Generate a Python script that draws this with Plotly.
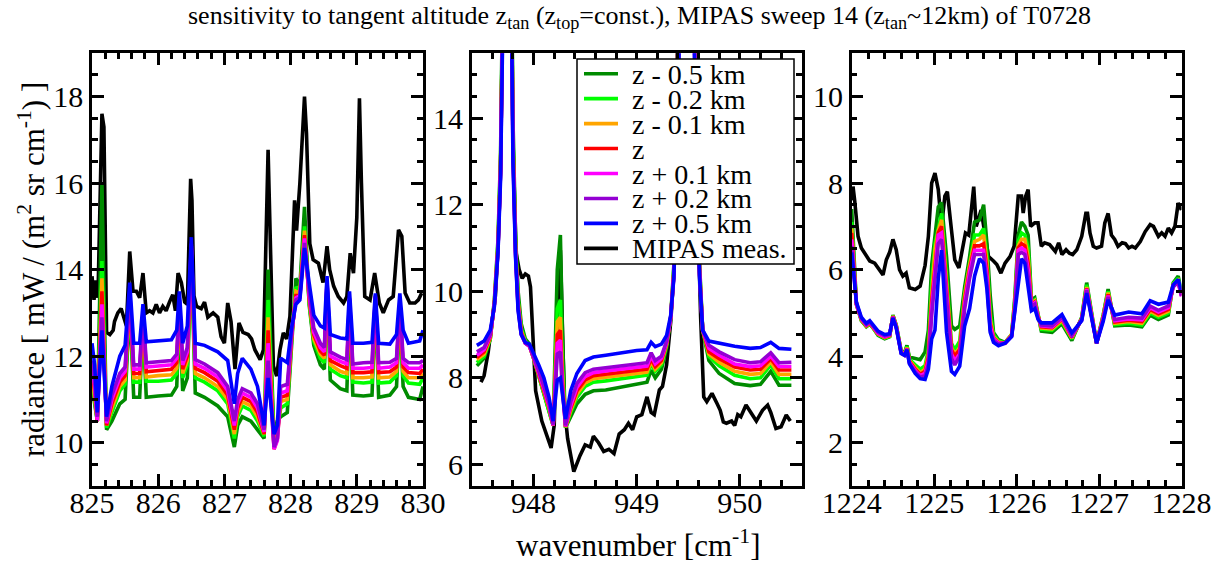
import plotly.graph_objects as go

# ---------------- data: left panel (825-830 cm-1) ----------------
L_x = [825.00, 825.04, 825.08, 825.15, 825.22, 825.30, 825.42, 825.50, 825.57, 825.63,
       825.72, 825.77, 825.82, 826.00, 826.20, 826.28, 826.32, 826.37, 826.44, 826.50,
       826.56, 826.70, 826.90, 827.05, 827.15, 827.20, 827.27, 827.40, 827.50, 827.60,
       827.66, 827.75, 827.80, 827.85, 827.95, 828.02, 828.08, 828.14, 828.21, 828.28,
       828.35, 828.45, 828.51, 828.55, 828.60, 828.75, 828.85, 828.89, 828.94, 829.10,
       829.23, 829.28, 829.33, 829.50, 829.60, 829.65, 829.70, 829.78, 829.95, 830.00]
L_dg = [11.3, 10.9, 10.5, 16.0, 10.3, 10.5, 10.9, 11.0, 13.2, 11.05,
        11.05, 12.8, 11.05, 11.08, 11.1, 11.3, 13.0, 11.2, 11.5, 14.3,
        11.15, 11.05, 10.85, 10.6, 9.9, 10.4, 10.6, 10.5, 10.3, 10.1,
        14.0, 10.1, 10.5, 10.6, 10.7, 12.5, 13.8, 13.6, 15.45, 13.2,
        12.25, 11.8, 11.7, 13.6, 11.45, 11.25, 11.2, 13.2, 11.1, 11.08,
        11.1, 13.3, 11.05, 11.1, 11.3, 13.0, 11.3, 11.05, 11.0, 11.3]
L_lime = [11.5, 11.0, 10.5, 14.2, 10.35, 10.7, 11.2, 11.35, 13.3, 11.4,
          11.4, 12.85, 11.42, 11.42, 11.45, 11.6, 13.1, 11.5, 11.8, 14.4,
          11.5, 11.4, 11.2, 10.9, 10.1, 10.6, 10.85, 10.75, 10.5, 10.15,
          13.3, 10.0, 10.3, 10.8, 10.9, 12.5, 13.6, 13.5, 15.0, 13.25,
          12.35, 11.95, 11.85, 13.65, 11.7, 11.55, 11.5, 13.25, 11.4, 11.38,
          11.4, 13.32, 11.38, 11.4, 11.55, 13.05, 11.55, 11.38, 11.35, 11.5]
L_orange = [11.6, 11.1, 10.5, 13.8, 10.4, 10.8, 11.3, 11.45, 13.35, 11.5,
            11.5, 12.9, 11.52, 11.55, 11.57, 11.72, 13.15, 11.6, 11.9, 14.45,
            11.6, 11.5, 11.3, 11.0, 10.2, 10.7, 10.95, 10.85, 10.6, 10.2,
            12.9, 9.9, 10.2, 10.95, 11.0, 12.5, 13.5, 13.45, 14.9, 13.3,
            12.4, 12.05, 11.95, 13.68, 11.8, 11.65, 11.6, 13.28, 11.5, 11.5,
            11.52, 13.34, 11.5, 11.52, 11.65, 13.1, 11.65, 11.5, 11.5, 11.6]
L_red = [11.7, 11.2, 10.5, 13.5, 10.4, 10.9, 11.4, 11.55, 13.4, 11.6,
         11.6, 12.95, 11.64, 11.67, 11.7, 11.85, 13.2, 11.7, 12.0, 14.5,
         11.72, 11.62, 11.42, 11.1, 10.3, 10.8, 11.05, 10.95, 10.7, 10.2,
         12.6, 9.85, 10.1, 11.05, 11.1, 12.55, 13.4, 13.4, 14.8, 13.35,
         12.5, 12.12, 12.02, 13.7, 11.9, 11.78, 11.72, 13.3, 11.62, 11.62,
         11.64, 13.36, 11.62, 11.64, 11.75, 13.15, 11.75, 11.62, 11.6, 11.7]
L_magenta = [11.8, 11.3, 10.5, 13.2, 10.45, 11.0, 11.5, 11.65, 13.45, 11.7,
             11.7, 13.0, 11.75, 11.77, 11.8, 11.95, 13.25, 11.8, 12.1, 14.55,
             11.82, 11.72, 11.52, 11.2, 10.4, 10.9, 11.15, 11.05, 10.8, 10.25,
             12.3, 9.85, 10.05, 11.15, 11.2, 12.6, 13.35, 13.4, 14.72, 13.4,
             12.55, 12.2, 12.1, 13.72, 12.0, 11.88, 11.82, 13.32, 11.72, 11.72,
             11.74, 13.38, 11.72, 11.75, 11.85, 13.2, 11.85, 11.72, 11.72, 11.8]
L_purple = [11.9, 11.4, 10.6, 12.9, 10.5, 11.1, 11.6, 11.75, 13.5, 11.8,
            11.8, 13.05, 11.85, 11.88, 11.9, 12.05, 13.3, 11.9, 12.2, 14.6,
            11.92, 11.82, 11.62, 11.3, 10.5, 11.0, 11.25, 11.15, 10.9, 10.3,
            11.9, 9.9, 10.1, 11.3, 11.35, 12.6, 13.3, 13.35, 14.62, 13.5,
            12.65, 12.3, 12.2, 13.75, 12.1, 11.98, 11.92, 13.35, 11.82, 11.85,
            11.86, 13.4, 11.85, 11.86, 11.95, 13.25, 11.95, 11.85, 11.85, 11.9]
L_blue = [12.3, 11.8, 10.7, 12.6, 10.6, 11.3, 12.0, 12.25, 13.7, 12.3,
          12.3, 13.2, 12.33, 12.35, 12.38, 12.6, 13.5, 12.3, 12.7, 14.75,
          12.3, 12.25, 12.1, 11.9, 10.9, 11.6, 11.95, 11.7, 11.3, 10.4,
          11.5, 10.2, 10.4, 11.95, 11.85, 12.7, 13.2, 13.3, 14.5, 13.7,
          12.95, 12.7, 12.65, 13.85, 12.5, 12.42, 12.4, 13.5, 12.3, 12.3,
          12.32, 13.45, 12.3, 12.28, 12.5, 13.45, 12.6, 12.3, 12.35, 12.6]
L_meas_x = [825.00, 825.03, 825.06, 825.09, 825.15, 825.18, 825.22, 825.27, 825.32, 825.34,
            825.39, 825.44, 825.48, 825.52, 825.57, 825.62, 825.67, 825.72, 825.77, 825.82,
            825.87, 825.92, 825.97, 826.02, 826.07, 826.12, 826.17, 826.22, 826.26, 826.30,
            826.35, 826.40, 826.44, 826.47, 826.49, 826.51, 826.54, 826.58, 826.65, 826.70,
            826.75, 826.83, 826.90, 826.95, 827.00, 827.05, 827.10, 827.16, 827.22, 827.28,
            827.36, 827.41, 827.46, 827.54, 827.59, 827.66, 827.74, 827.79, 827.84, 827.89,
            827.94, 827.99, 828.06, 828.09, 828.14, 828.21, 828.24, 828.29, 828.34, 828.42,
            828.49, 828.55, 828.59, 828.65, 828.72, 828.80, 828.85, 828.90, 828.95, 829.00,
            829.04, 829.07, 829.12, 829.20, 829.27, 829.34, 829.40, 829.48, 829.55, 829.63,
            829.68, 829.73, 829.80, 829.88, 829.93, 829.98]
L_meas = [13.85, 13.3, 13.75, 13.35, 17.6, 17.3, 12.55, 12.5, 12.6, 12.8,
          13.0, 13.1, 12.9, 12.7, 14.42, 13.5, 13.5, 13.35, 13.92, 13.0,
          13.05, 13.0, 13.2, 13.0, 13.15, 13.05, 13.25, 13.42, 13.05, 13.92,
          13.7, 13.25, 13.2, 15.0, 16.1, 15.6, 13.4, 13.15, 13.1, 13.25,
          12.9, 13.0, 12.9, 12.45, 12.3, 13.23, 12.8, 11.7, 12.77, 12.55,
          12.5, 12.4, 12.15, 11.92, 12.15, 16.77, 11.77, 11.54, 12.15, 12.54,
          12.4, 12.92, 15.6, 14.9, 16.0, 18.0, 17.15, 14.6, 14.23, 14.15,
          13.7, 14.54, 14.0, 13.62, 13.38, 13.23, 13.38, 14.38, 13.92, 15.2,
          17.96, 16.0, 13.38, 13.3, 13.92, 13.23, 13.0, 13.3, 13.38, 14.92,
          14.77, 13.46, 13.23, 13.23, 13.3, 13.46]

# ---------------- data: middle panel (947.4-950.6 cm-1) ----------------
M_x = [947.45, 947.52, 947.58, 947.62, 947.655, 947.68, 947.71, 947.74, 947.77, 947.80,
       947.825, 947.85, 947.88, 947.92, 947.96, 948.00, 948.05, 948.10, 948.15, 948.19,
       948.23, 948.26, 948.28, 948.31, 948.36, 948.42, 948.50, 948.58, 948.70, 948.85,
       949.00, 949.10, 949.14, 949.18, 949.24, 949.29, 949.33, 949.36, 949.385, 949.43,
       949.485, 949.54, 949.585, 949.61, 949.64, 949.70, 949.80, 949.95, 950.10, 950.20,
       950.30, 950.38, 950.50]
M_dg = [8.28, 8.45, 8.9, 9.8, 11.2, 13.2, 19.0, 40, 22.0, 14.0,
        11.3, 10.0, 9.25, 8.9, 8.78, 8.45, 8.05, 7.65, 7.25, 6.9,
        10.5, 11.3, 9.0, 6.85, 7.1, 7.4, 7.62, 7.7, 7.72, 7.78,
        7.84, 7.9, 8.18, 8.0, 8.2, 8.7, 9.4, 10.6, 12.8, 19.5,
        40, 19.5, 12.8, 10.6, 9.1, 8.4, 8.1, 7.87, 7.82, 7.85,
        8.15, 7.83, 7.83]
M_lime = [8.35, 8.5, 8.9, 9.75, 11.1, 13.0, 18.5, 40, 21.5, 13.6,
          11.1, 9.8, 9.15, 8.85, 8.75, 8.45, 8.06, 7.67, 7.27, 6.9,
          9.6, 9.8, 8.3, 6.85, 7.2, 7.55, 7.8, 7.9, 7.93, 7.98,
          8.03, 8.06, 8.32, 8.15, 8.3, 8.75, 9.4, 10.5, 12.6, 19.0,
          40, 19.0, 12.6, 10.5, 9.1, 8.5, 8.28, 8.06, 7.98, 8.0,
          8.3, 7.98, 7.98]
M_orange = [8.42, 8.55, 8.92, 9.75, 11.05, 12.9, 18.3, 40, 21.3, 13.5,
            11.0, 9.75, 9.1, 8.82, 8.74, 8.45, 8.08, 7.7, 7.3, 6.9,
            9.3, 9.4, 8.1, 6.86, 7.25, 7.62, 7.88, 7.98, 8.02, 8.06,
            8.1, 8.13, 8.38, 8.2, 8.35, 8.78, 9.4, 10.45, 12.5, 18.8,
            40, 18.8, 12.5, 10.45, 9.1, 8.55, 8.36, 8.15, 8.08, 8.1,
            8.37, 8.08, 8.08]
M_red = [8.47, 8.6, 8.95, 9.7, 11.0, 12.85, 18.2, 40, 21.2, 13.4,
         10.95, 9.7, 9.05, 8.8, 8.73, 8.46, 8.1, 7.72, 7.32, 6.9,
         9.0, 9.1, 7.9, 6.87, 7.3, 7.7, 7.95, 8.05, 8.08, 8.12,
         8.17, 8.2, 8.44, 8.26, 8.4, 8.8, 9.4, 10.4, 12.45, 18.6,
         40, 18.6, 12.45, 10.4, 9.1, 8.6, 8.44, 8.25, 8.18, 8.2,
         8.44, 8.18, 8.18]
M_magenta = [8.52, 8.65, 8.97, 9.7, 11.0, 12.8, 18.0, 40, 21.0, 13.3,
             10.9, 9.65, 9.02, 8.8, 8.73, 8.47, 8.12, 7.75, 7.35, 6.9,
             8.8, 8.87, 7.8, 6.88, 7.35, 7.78, 8.03, 8.12, 8.16, 8.2,
             8.24, 8.27, 8.5, 8.32, 8.45, 8.82, 9.4, 10.4, 12.4, 18.5,
             40, 18.5, 12.4, 10.4, 9.1, 8.68, 8.52, 8.32, 8.26, 8.28,
             8.5, 8.26, 8.26]
M_purple = [8.6, 8.7, 9.0, 9.7, 10.95, 12.75, 17.8, 40, 20.8, 13.2,
            10.85, 9.6, 9.0, 8.8, 8.74, 8.5, 8.16, 7.8, 7.4, 6.92,
            8.55, 8.6, 7.7, 6.9, 7.45, 7.87, 8.12, 8.2, 8.24, 8.28,
            8.32, 8.35, 8.58, 8.4, 8.5, 8.85, 9.4, 10.35, 12.35, 18.3,
            40, 18.3, 12.35, 10.35, 9.1, 8.75, 8.6, 8.42, 8.35, 8.37,
            8.58, 8.35, 8.36]
M_blue = [8.75, 8.85, 9.1, 9.65, 10.9, 12.6, 17.5, 40, 20.5, 13.0,
          10.8, 9.55, 9.0, 8.82, 8.78, 8.58, 8.3, 8.0, 7.55, 7.0,
          7.95, 8.0, 7.6, 7.05, 7.7, 8.1, 8.4, 8.48, 8.52, 8.58,
          8.63, 8.65, 8.82, 8.72, 8.78, 8.98, 9.45, 10.3, 12.2, 18.0,
          40, 18.0, 12.2, 10.3, 9.1, 8.85, 8.8, 8.73, 8.68, 8.7,
          8.82, 8.68, 8.66]
M_meas_x = [947.49, 947.52, 947.56, 947.60, 947.63, 947.655, 947.68, 947.71, 947.74, 947.77,
            947.80, 947.83, 947.86, 947.89, 947.92, 947.95, 947.97, 947.99, 948.02, 948.08,
            948.12, 948.17, 948.20, 948.23, 948.26, 948.28, 948.30, 948.33, 948.39, 948.45,
            948.50, 948.55, 948.58, 948.63, 948.68, 948.73, 948.78, 948.83, 948.88, 948.92,
            948.96, 949.00, 949.05, 949.10, 949.14, 949.17, 949.22, 949.25, 949.29, 949.33,
            949.36, 949.385, 949.43, 949.485, 949.54, 949.585, 949.62, 949.65, 949.68, 949.73,
            949.78, 949.81, 949.84, 949.87, 949.92, 949.95, 949.98, 950.01, 950.06, 950.11,
            950.16, 950.22, 950.27, 950.30, 950.35, 950.40, 950.45, 950.49]
M_meas = [7.9, 8.05, 8.6, 9.3, 9.9, 11.0, 12.8, 18.5, 40, 21,
          13.5, 10.9, 10.5, 10.3, 10.4, 10.35, 10.1, 9.0, 7.7, 7.0,
          6.7, 6.38, 6.9, 9.5, 10.95, 9.0, 7.3, 6.6, 5.83, 6.2,
          6.45, 6.4, 6.65, 6.5, 6.3, 6.35, 6.25, 6.7, 6.8, 6.95,
          6.8, 7.1, 7.15, 7.56, 7.2, 7.15, 7.72, 7.8, 8.3, 9.3,
          10.4, 12.4, 18.5, 40, 19, 12.5, 9.4, 7.56, 7.45, 7.64,
          7.4, 7.25, 6.98, 6.95, 7.0, 6.9, 7.15, 7.1, 7.37, 7.2,
          7.0, 7.25, 7.37, 7.2, 6.83, 6.87, 7.14, 7.0]

# ---------------- data: right panel (1224-1228 cm-1) ----------------
R_x = [1224.00, 1224.057, 1224.117, 1224.178, 1224.219, 1224.26, 1224.32, 1224.40, 1224.46, 1224.50,
       1224.54, 1224.60, 1224.64, 1224.67, 1224.70, 1224.77, 1224.83, 1224.89, 1224.93, 1224.97,
       1225.01, 1225.05, 1225.09, 1225.15, 1225.21, 1225.25, 1225.31, 1225.37, 1225.43, 1225.49,
       1225.55, 1225.60, 1225.64, 1225.68, 1225.72, 1225.78, 1225.86, 1225.94, 1225.98, 1226.02,
       1226.06, 1226.10, 1226.14, 1226.18, 1226.22, 1226.26, 1226.30, 1226.43, 1226.55, 1226.67,
       1226.79, 1226.85, 1226.97, 1227.05, 1227.11, 1227.19, 1227.36, 1227.52, 1227.62, 1227.72,
       1227.84, 1227.90, 1227.96, 1228.00]
R_dg = [7.4, 5.2, 4.82, 4.68, 4.74, 4.65, 4.48, 4.4, 4.45, 4.95,
        4.72, 4.12, 4.08, 4.25, 3.98, 3.95, 3.92, 4.1, 4.6, 6.1,
        6.7, 7.45, 7.55, 6.3, 4.7, 4.62, 4.7, 5.6, 6.3, 7.1,
        7.15, 7.5, 6.6, 5.4, 4.55, 4.38, 4.32, 4.5, 5.4, 6.8,
        7.1, 7.0, 6.8, 5.3, 5.35, 5.0, 4.58, 4.55, 4.75, 4.36,
        4.9, 5.7, 4.3, 4.95, 5.55, 4.7, 4.72, 4.68, 4.95, 4.85,
        4.95, 5.7, 5.85, 5.5]
R_lime = [7.1, 5.2, 4.83, 4.69, 4.75, 4.66, 4.5, 4.42, 4.46, 4.94,
          4.71, 4.11, 4.06, 4.22, 3.93, 3.8, 3.7, 3.78, 4.15, 5.7,
          6.6, 6.95, 7.3, 5.85, 4.3, 4.15, 4.35, 5.45, 6.15, 6.8,
          6.8, 6.95, 6.3, 5.0, 4.5, 4.35, 4.31, 4.5, 5.3, 6.65,
          6.85, 6.8, 6.5, 5.25, 5.3, 4.97, 4.62, 4.6, 4.8, 4.4,
          4.88, 5.65, 4.3, 4.93, 5.5, 4.73, 4.76, 4.72, 5.0, 4.9,
          5.0, 5.68, 5.8, 5.45]
R_orange = [6.95, 5.2, 4.84, 4.7, 4.76, 4.67, 4.51, 4.43, 4.47, 4.93,
            4.7, 4.1, 4.05, 4.2, 3.9, 3.74, 3.62, 3.7, 4.05, 5.4,
            6.45, 6.9, 7.15, 5.7, 4.2, 4.05, 4.2, 5.4, 6.1, 6.65,
            6.7, 6.8, 6.15, 4.85, 4.45, 4.33, 4.3, 4.5, 5.25, 6.55,
            6.7, 6.7, 6.3, 5.22, 5.28, 4.95, 4.65, 4.63, 4.83, 4.42,
            4.87, 5.6, 4.3, 4.91, 5.47, 4.76, 4.8, 4.76, 5.04, 4.94,
            5.04, 5.66, 5.75, 5.42]
R_red = [6.85, 5.2, 4.85, 4.71, 4.77, 4.68, 4.52, 4.44, 4.48, 4.92,
         4.69, 4.09, 4.04, 4.18, 3.88, 3.7, 3.58, 3.65, 3.98, 5.25,
         6.15, 6.85, 7.0, 5.55, 4.15, 4.0, 4.15, 5.3, 6.0, 6.55,
         6.55, 6.6, 6.0, 4.75, 4.42, 4.31, 4.3, 4.48, 5.2, 6.5,
         6.6, 6.55, 6.15, 5.2, 5.25, 4.92, 4.68, 4.66, 4.86, 4.44,
         4.86, 5.57, 4.3, 4.89, 5.43, 4.79, 4.83, 4.8, 5.08, 4.98,
         5.08, 5.64, 5.72, 5.4]
R_magenta = [6.7, 5.2, 4.86, 4.72, 4.78, 4.69, 4.53, 4.45, 4.49, 4.91,
             4.68, 4.08, 4.03, 4.17, 3.86, 3.67, 3.55, 3.6, 3.9, 5.1,
             6.0, 6.8, 6.85, 5.4, 4.05, 3.9, 4.05, 5.2, 5.95, 6.45,
             6.45, 6.45, 5.85, 4.7, 4.4, 4.3, 4.3, 4.47, 5.15, 6.45,
             6.5, 6.45, 6.0, 5.18, 5.23, 4.9, 4.7, 4.68, 4.88, 4.46,
             4.85, 5.55, 4.3, 4.87, 5.4, 4.82, 4.86, 4.84, 5.12, 5.02,
             5.12, 5.62, 5.7, 5.38]
R_purple = [6.55, 5.22, 4.87, 4.73, 4.79, 4.7, 4.55, 4.47, 4.5, 4.9,
            4.67, 4.07, 4.02, 4.16, 3.84, 3.64, 3.52, 3.55, 3.82, 4.95,
            5.8, 6.6, 6.7, 5.25, 3.95, 3.8, 4.0, 5.1, 5.8, 6.35,
            6.35, 6.35, 5.7, 4.6, 4.37, 4.28, 4.3, 4.46, 5.1, 6.35,
            6.4, 6.35, 5.85, 5.15, 5.2, 4.88, 4.72, 4.7, 4.9, 4.48,
            4.84, 5.52, 4.3, 4.85, 5.37, 4.85, 4.9, 4.88, 5.16, 5.06,
            5.16, 5.6, 5.72, 5.4]
R_blue = [6.4, 5.25, 4.9, 4.76, 4.82, 4.73, 4.58, 4.5, 4.52, 4.88,
          4.66, 4.06, 4.02, 4.15, 3.82, 3.6, 3.48, 3.46, 3.7, 4.4,
          4.6, 5.8, 6.45, 4.55, 3.65, 3.58, 3.77, 4.7, 5.1, 5.85,
          6.25, 6.15, 5.55, 4.55, 4.32, 4.24, 4.3, 4.45, 5.0, 5.7,
          6.25, 6.15, 5.55, 5.05, 5.1, 4.85, 4.77, 4.77, 4.96, 4.54,
          4.82, 5.46, 4.3, 4.8, 5.3, 4.95, 5.02, 4.98, 5.28, 5.2,
          5.25, 5.65, 5.77, 5.5]
R_meas_x = [1224.00, 1224.016, 1224.036, 1224.077, 1224.117, 1224.178, 1224.219, 1224.279, 1224.34, 1224.38,
            1224.42, 1224.46, 1224.50, 1224.54, 1224.58, 1224.62, 1224.66, 1224.70, 1224.77, 1224.83,
            1224.89, 1224.93, 1224.97, 1225.01, 1225.05, 1225.09, 1225.13, 1225.16, 1225.21, 1225.25,
            1225.30, 1225.34, 1225.38, 1225.42, 1225.45, 1225.48, 1225.51, 1225.55, 1225.57, 1225.62,
            1225.66, 1225.72, 1225.76, 1225.81, 1225.86, 1225.92, 1225.97, 1226.02, 1226.06, 1226.08,
            1226.11, 1226.14, 1226.17, 1226.22, 1226.26, 1226.30, 1226.34, 1226.40, 1226.47, 1226.51,
            1226.55, 1226.60, 1226.64, 1226.68, 1226.73, 1226.79, 1226.84, 1226.86, 1226.89, 1226.93,
            1226.97, 1227.03, 1227.07, 1227.11, 1227.15, 1227.19, 1227.23, 1227.28, 1227.32, 1227.36,
            1227.40, 1227.44, 1227.50, 1227.56, 1227.62, 1227.66, 1227.72, 1227.76, 1227.80, 1227.84,
            1227.88, 1227.92, 1227.96, 1228.00]
R_meas = [7.6, 7.92, 7.6, 6.77, 6.5, 6.3, 6.2, 6.15, 6.0, 5.88,
          6.23, 6.4, 6.7, 6.46, 6.0, 5.85, 5.92, 5.58, 5.54, 5.62,
          6.1, 6.77, 8.0, 8.23, 7.85, 7.0, 7.7, 7.8, 6.92, 6.23,
          6.04, 6.46, 6.85, 6.8, 7.38, 7.92, 7.0, 7.3, 7.38, 6.77,
          6.3, 6.2, 6.12, 5.92, 6.15, 6.3, 6.54, 7.7, 7.7, 7.31,
          7.7, 7.85, 7.0, 7.08, 7.08, 6.54, 6.62, 6.58, 6.42, 6.62,
          6.35, 6.46, 6.38, 6.35, 6.46, 6.77, 7.3, 7.3, 6.85, 6.54,
          6.5, 6.54, 7.08, 7.3, 6.8, 6.7, 6.54, 6.62, 6.6, 6.5,
          6.54, 6.5, 6.65, 6.88, 7.04, 7.0, 6.77, 6.85, 6.77, 6.96,
          6.85, 7.0, 7.54, 7.38]

# ---------------- labels / styles ----------------
series_names = ["z - 0.5 km", "z - 0.2 km", "z - 0.1 km", "z",
                "z + 0.1 km", "z + 0.2 km", "z + 0.5 km", "MIPAS meas."]
series_colors = ["#008b00", "#00ff00", "#ffa500", "#ff0000",
                 "#ff00ff", "#9400d3", "#0000ff", "#000000"]
x_ranges = [[825, 830], [947.4, 950.6], [1224, 1228]]
y_ranges = [[9, 19], [5.5, 15.5], [1, 11]]

W, H = 1223, 563
FONT = "Liberation Serif, Times New Roman, serif"
LW = 3.6

panels = [
    (L_x, [L_dg, L_lime, L_orange, L_red, L_magenta, L_purple, L_blue], L_meas_x, L_meas),
    (M_x, [M_dg, M_lime, M_orange, M_red, M_magenta, M_purple, M_blue], M_meas_x, M_meas),
    (R_x, [R_dg, R_lime, R_orange, R_red, R_magenta, R_purple, R_blue], R_meas_x, R_meas),
]

fig = go.Figure()
for i, (mx, models, ex, ey) in enumerate(panels):
    xa = "x" if i == 0 else f"x{i+1}"
    ya = "y" if i == 0 else f"y{i+1}"
    fig.add_trace(go.Scatter(x=ex, y=ey, mode="lines", name=series_names[7],
                             line=dict(color=series_colors[7], width=LW),
                             xaxis=xa, yaxis=ya, showlegend=False, hoverinfo="skip"))
    for k, ys in enumerate(models):
        fig.add_trace(go.Scatter(x=mx, y=ys, mode="lines", name=series_names[k],
                                 line=dict(color=series_colors[k], width=LW),
                                 xaxis=xa, yaxis=ya, showlegend=False, hoverinfo="skip"))

# panel geometry in pixels
x_px = [(92, 423), (471.7, 801.7), (851.7, 1181.5)]
y_top, y_bot = 53.3, 486.0

axis_common = dict(showline=True, linecolor="black", linewidth=2.5, mirror="allticks",
                   ticks="inside", ticklen=12, tickwidth=2.5, tickcolor="black",
                   showgrid=False, zeroline=False, automargin=False,
                   tickfont=dict(family=FONT, size=30, color="black"))
layout = dict(width=W, height=H, margin=dict(l=0, r=0, t=0, b=0, autoexpand=False),
              paper_bgcolor="white", plot_bgcolor="white", showlegend=False)
for i in range(3):
    xs = "xaxis" if i == 0 else f"xaxis{i+1}"
    ys = "yaxis" if i == 0 else f"yaxis{i+1}"
    yname = "y" if i == 0 else f"y{i+1}"
    xname = "x" if i == 0 else f"x{i+1}"
    layout[xs] = dict(axis_common, domain=[x_px[i][0] / W, x_px[i][1] / W],
                      range=x_ranges[i], dtick=1, tick0=0, anchor=yname, ticklabelstandoff=-12,
                      minor=dict(dtick=0.2, ticklen=6, tickwidth=2.5, ticks="inside", tickcolor="black"))
    layout[ys] = dict(axis_common, domain=[1 - y_bot / H, 1 - y_top / H],
                      range=y_ranges[i], dtick=2, tick0=0, anchor=xname,
                      minor=dict(dtick=0.5, ticklen=6, tickwidth=2.5, ticks="inside", tickcolor="black"))
fig.update_layout(**layout)

annotations = [
    dict(text="sensitivity to tangent altitude z<sub>tan</sub> (z<sub>top</sub>=const.), "
              "MIPAS sweep 14 (z<sub>tan</sub>~12km) of T0728",
         x=639 / W, y=1 - 17 / H, xref="paper", yref="paper", showarrow=False,
         xanchor="center", yanchor="middle", font=dict(family=FONT, size=26, color="black")),
    dict(text="wavenumber [cm<sup>-1</sup>]", x=638 / W, y=1 - 543 / H, xref="paper", yref="paper",
         showarrow=False, xanchor="center", yanchor="middle",
         font=dict(family=FONT, size=31, color="black")),
    dict(text="radiance [ mW / (m<sup>2</sup> sr cm<sup>-1</sup>) ]", x=31 / W, y=1 - 270 / H,
         xref="paper", yref="paper", showarrow=False, textangle=-90,
         xanchor="center", yanchor="middle", font=dict(family=FONT, size=31, color="black")),
]

# manual legend box (inside middle panel)
shapes = [dict(type="rect", xref="paper", yref="paper", x0=577 / W, x1=794 / W,
               y0=1 - 264 / H, y1=1 - 59 / H, line=dict(color="black", width=1.5),
               fillcolor="white", layer="above")]
for k in range(8):
    yy = 1 - (73.7 + 24.95 * k) / H
    shapes.append(dict(type="line", xref="paper", yref="paper", x0=584 / W, x1=618 / W,
                       y0=yy, y1=yy, line=dict(color=series_colors[k], width=LW), layer="above"))
    annotations.append(dict(text=series_names[k], x=630 / W, y=yy, xref="paper", yref="paper",
                            showarrow=False, xanchor="left", yanchor="middle", height=24,
                            font=dict(family=FONT, size=28, color="black")))
fig.update_layout(annotations=annotations, shapes=shapes)

fig.write_html("out.html", config={"displayModeBar": False},
               post_script="document.body.style.margin='0';document.body.style.overflow='hidden';")
